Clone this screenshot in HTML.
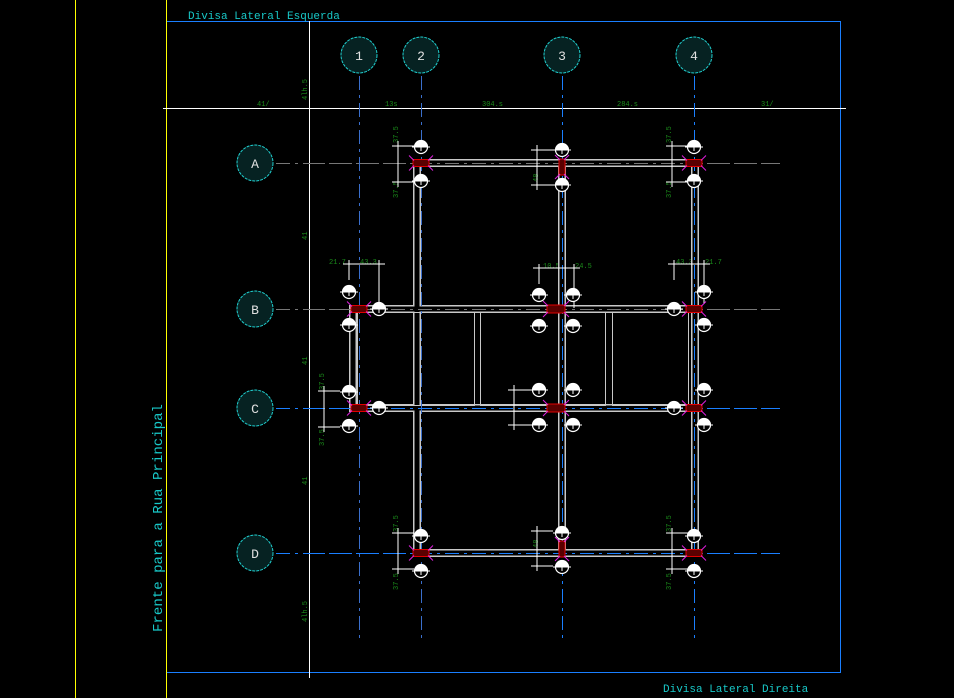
<!DOCTYPE html>
<html><head><meta charset="utf-8"><style>
html,body{margin:0;padding:0;background:#000;width:954px;height:698px;overflow:hidden}
svg{display:block}
text{font-family:"Liberation Mono",monospace}
</style></head><body>
<svg id="s" width="954" height="698" viewBox="0 0 954 698" xmlns="http://www.w3.org/2000/svg">
<rect width="954" height="698" fill="#000"/>
<rect x="75" y="0" width="1" height="698" fill="#ffff00"/>
<rect x="166" y="0" width="1" height="698" fill="#ffff00"/>
<line x1="167" y1="21.5" x2="840" y2="21.5" stroke="#1a7fff"/>
<line x1="840.5" y1="21" x2="840.5" y2="673" stroke="#1a7fff"/>
<line x1="167" y1="672.5" x2="840" y2="672.5" stroke="#1a7fff"/>
<line x1="163" y1="108.5" x2="846" y2="108.5" stroke="#fff"/>
<line x1="309.5" y1="21" x2="309.5" y2="678" stroke="#fff"/>
<text x="188" y="19" fill="#18c8c8" font-size="11">Divisa Lateral Esquerda</text>
<text x="663" y="692" fill="#18c8c8" font-size="11">Divisa Lateral Direita</text>
<text transform="translate(162,632) rotate(-90)" fill="#18c8c8" font-size="13.5" textLength="228" lengthAdjust="spacingAndGlyphs">Frente para a Rua Principal</text>
<g fill="#1a8a1a" font-size="7">
<text x="257" y="106">41/</text><text x="385" y="106">13s</text><text x="482" y="106">304.s</text><text x="617" y="106">284.s</text><text x="761" y="106">31/</text>
<text x="329" y="264">21.7</text><text x="360" y="264">43.3</text>
<text x="543" y="268">10.5</text><text x="575" y="268">24.5</text>
<text x="676" y="264">43.3</text><text x="705" y="264">21.7</text>
<text transform="translate(307,100) rotate(-90)">4lh.5</text>
<text transform="translate(307,240) rotate(-90)">41</text>
<text transform="translate(307,365) rotate(-90)">41</text>
<text transform="translate(307,485) rotate(-90)">41</text>
<text transform="translate(307,622) rotate(-90)">4lh.5</text>
<text transform="translate(398,143) rotate(-90)">37.5</text><text transform="translate(398,198) rotate(-90)">37.5</text>
<text transform="translate(671,143) rotate(-90)">37.5</text><text transform="translate(671,198) rotate(-90)">37.5</text>
<text transform="translate(538,182) rotate(-90)">48</text>
<text transform="translate(398,532) rotate(-90)">37.5</text><text transform="translate(398,590) rotate(-90)">37.5</text>
<text transform="translate(671,532) rotate(-90)">37.5</text><text transform="translate(671,590) rotate(-90)">37.5</text>
<text transform="translate(538,548) rotate(-90)">48</text>
<text transform="translate(324,390) rotate(-90)">37.5</text><text transform="translate(324,446) rotate(-90)">37.5</text>
<text transform="translate(515,412) rotate(-90)">43</text>
</g>
<g id="grid" stroke-dasharray="14,5,3,5" stroke-width="1"></g>
<g id="beams"></g>
</svg>
<script>
var NS="http://www.w3.org/2000/svg",s=document.getElementById('s');
function el(t,a,p){var e=document.createElementNS(NS,t);for(var k in a)e.setAttribute(k,a[k]);(p||s).appendChild(e);return e;}
var g=document.getElementById('grid');
[[359,'#3a6fcc'],[421,'#3a6fcc'],[562,'#1a7fff'],[694,'#1a7fff']].forEach(function(c){el('line',{x1:c[0]+.5,y1:76,x2:c[0]+.5,y2:642,stroke:c[1]},g);});
[[163,'#777'],[309,'#777'],[408,'#1a7fff'],[553,'#1a7fff']].forEach(function(r){el('line',{x1:276,y1:r[0]+.5,x2:780,y2:r[0]+.5,stroke:r[1]},g);});
function bub(x,y,t){el('circle',{cx:x,cy:y,r:18,fill:'#062222',stroke:'#20d0d0','stroke-width':1,'stroke-dasharray':'3,1'});var e=el('text',{x:x,y:y+5,fill:'#e0e0e0','font-size':13,'text-anchor':'middle'});e.textContent=t;}
bub(359,55,'1');bub(421,55,'2');bub(562,55,'3');bub(694,55,'4');
bub(255,163,'A');bub(255,309,'B');bub(255,408,'C');bub(255,553,'D');
var b=document.getElementById('beams');
var paths=['M417,556 L417,163 L695,163 L695,553 L417,553','M562,163 L562,553','M417,309 L353,309 L353,408 L695,408','M417,408 L417,553','M417,309 L695,309'];
paths.forEach(function(d){el('path',{d:d,fill:'none',stroke:'#c8c8c8','stroke-width':8,'stroke-linejoin':'miter'},b);});
paths.forEach(function(d){el('path',{d:d,fill:'none',stroke:'#000','stroke-width':5,'stroke-linejoin':'miter'},b);});
[[357,312,117,93],[480,312,125,93],[612,312,76,93]].forEach(function(r){el('rect',{x:r[0]+.5,y:r[1]+.5,width:r[2],height:r[3],fill:'none',stroke:'#c8c8c8'},b);});
[[562,'#1a7fff'],[694,'#1a7fff'],[359,'#3a6fcc'],[421,'#3a6fcc']].forEach(function(c){el('line',{x1:c[0]+.5,y1:76,x2:c[0]+.5,y2:642,stroke:c[1],'stroke-dasharray':'14,5,3,5'});});
[[408,'#1a7fff'],[553,'#1a7fff'],[163,'#777'],[309,'#777']].forEach(function(r){el('line',{x1:310,y1:r[0]+.5,x2:780,y2:r[0]+.5,stroke:r[1],'stroke-dasharray':'14,5,3,5'});});
function dimV(x,y1,y2){el('line',{x1:x,y1:y1,x2:x,y2:y2,stroke:'#fff'});el('line',{x1:x-6,y1:y1+5,x2:x+16,y2:y1+5,stroke:'#fff'});el('line',{x1:x-6,y1:y2-5,x2:x+16,y2:y2-5,stroke:'#fff'});}
dimV(398,141,187);dimV(672,141,187);dimV(537,145,190);
dimV(398,528,574);dimV(672,528,574);dimV(537,526,571);
dimV(324,386,432);dimV(514,385,430);
function dimH(x1,x2,y){el('line',{x1:x1-6,y1:y,x2:x2+6,y2:y,stroke:'#fff'});el('line',{x1:x1,y1:y-4,x2:x1,y2:y+16,stroke:'#fff'});el('line',{x1:x2,y1:y-4,x2:x2,y2:y+40,stroke:'#fff'});}
dimH(349,379,264);dimH(674,704,264);dimH(539,574,268);
function pile(x,y){el('circle',{cx:x,cy:y,r:6.5,fill:'#000',stroke:'#fff','stroke-width':1.2});el('path',{d:'M'+(x-6.5)+','+y+' A6.5,6.5 0 0 1 '+(x+6.5)+','+y+' Z',fill:'#fff'});el('line',{x1:x-9,y1:y,x2:x+9,y2:y,stroke:'#fff'});el('line',{x1:x,y1:y,x2:x,y2:y+4,stroke:'#fff'});}
[[421,147],[421,181],[562,150],[562,185],[694,147],[694,181],
[349,292],[349,325],[379,309],[539,295],[573,295],[539,326],[573,326],[704,292],[704,325],[674,309],
[349,392],[349,426],[379,408],[539,390],[573,390],[539,425],[573,425],[704,390],[704,425],[674,408],
[421,536],[421,571],[562,533],[562,567],[694,536],[694,571]].forEach(function(p){pile(p[0],p[1]);});
function col(x,y,w,h){el('rect',{x:x-w/2,y:y-h/2,width:w,height:h,fill:'#5a0000',stroke:'#e00000','stroke-width':1});
var mx=w/2+4,my=h/2+4;[[-1,-1],[1,-1],[-1,1],[1,1]].forEach(function(d){el('line',{x1:x+d[0]*(w/2-1),y1:y+d[1]*(h/2-1),x2:x+d[0]*mx,y2:y+d[1]*my,stroke:'#e020e0'});});}
col(421,163,16,7);col(562,167,6,16);col(694,163,16,7);
col(359,309,16,7);col(556,309,18,8);col(694,309,16,7);
col(359,408,16,7);col(556,408,18,8);col(694,408,16,7);
col(421,553,16,7);col(562,549,6,16);col(694,553,16,7);
</script>
</body></html>
